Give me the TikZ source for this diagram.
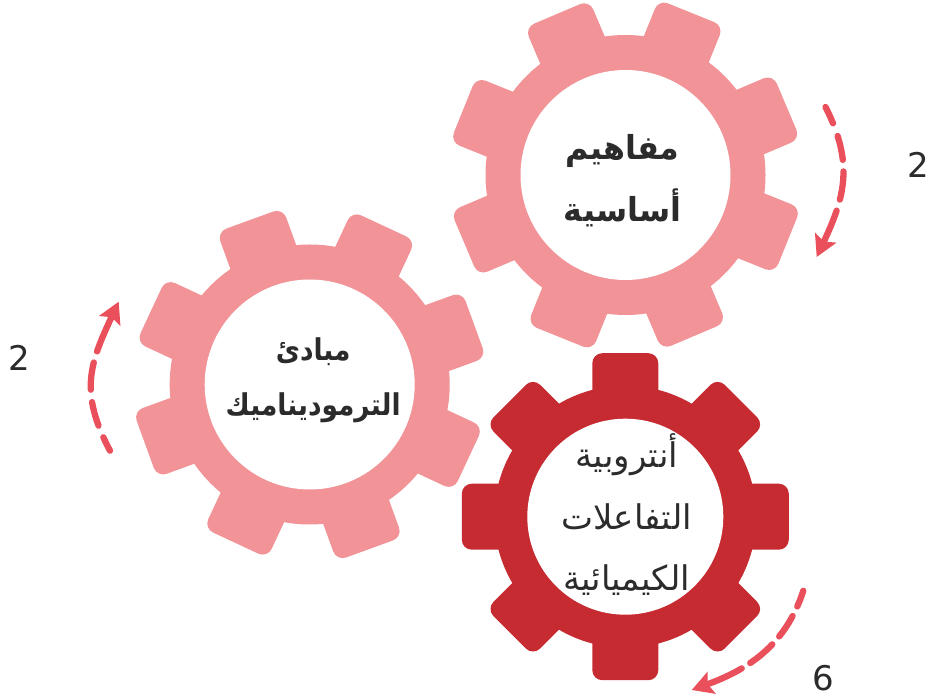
\documentclass[tikz,border=0pt]{standalone}
\usepackage{fontspec}
\setmainfont{DejaVu Sans}
\newfontfamily\arabicfont[Script=Arabic]{DejaVu Sans}
\newfontfamily\arabicnarrow[Script=Arabic,FakeStretch=0.88]{DejaVu Sans}
\newfontfamily\arabicslim[Script=Arabic,FakeStretch=0.96]{DejaVu Sans}
\TeXXeTstate=1
\usetikzlibrary{arrows.meta}
\definecolor{softpink}{HTML}{F19397}
\definecolor{deepred}{HTML}{C62B32}
\definecolor{arrowred}{HTML}{E9505C}
\definecolor{inktext}{HTML}{2B2B2B}
\tikzset{
  x=1pt,y=1pt,
  hole/.style={circle,fill=white,inner sep=0pt},
  words/.style={inner sep=0pt,align=center,text=inktext},
  spin/.style={draw=arrowred,line width=6.3pt,line cap=round,
    -{Stealth[length=21pt,width=23pt,inset=4pt]}},
  count/.style={text=inktext,font=\fontsize{34}{40}\selectfont,inner sep=0pt}
}
\newcommand{\gearshape}[7]{% x y body tooth width rot colour
  \fill[#7] (#1,#2) circle (#3);
  \foreach \k in {0,45,...,315}{
    \begin{scope}[shift={(#1,#2)},rotate=#6+\k]
      \fill[#7,rounded corners=10pt] (#3*0.6,-#5/2) rectangle (#4,#5/2);
    \end{scope}
  }
}
\begin{document}
\begin{tikzpicture}
\useasboundingbox (0,0) rectangle (928,698);
\gearshape{625.5}{523}{140}{175}{70}{68}{softpink}
\gearshape{309.7}{313.5}{140}{175}{70}{65}{softpink}
\gearshape{625.3}{181.3}{131}{163.5}{66}{0}{deepred}

\node[hole,minimum size=210pt] (g1) at (625.5,523) {};
\node[hole,minimum size=210pt] (g2) at (309.7,313.5) {};
\node[hole,minimum size=196pt] (g3) at (625.3,181.3) {};

\node[words,font=\fontsize{33}{62}\selectfont\bfseries\arabicslim] (t1) at ([xshift=-3pt,yshift=-6pt]g1.center)
  {\beginR مفاهيم\endR\\\beginR أساسية\endR};
\node[words,font=\fontsize{30}{55}\selectfont\bfseries\arabicnarrow] (t2) at ([xshift=3.5pt,yshift=4pt]g2.center)
  {\beginR مبادئ\endR\\\beginR الترموديناميك\endR};
\node[words,font=\fontsize{34}{61.5}\selectfont\arabicfont] (t3) at ([xshift=1.5pt,yshift=2pt]g3.center)
  {\beginR أنتروبية\endR\\\beginR التفاعلات\endR\\\beginR الكيميائية\endR};

\coordinate (a1s) at (825.5,591);
\coordinate (a1e) at (816.7,441);
\coordinate (a2s) at (110,247.3);
\coordinate (a2e) at (118.7,396.3);
\coordinate (a3s) at (803.3,107.3);
\coordinate (a3e) at (691.7,8);
\draw[spin,dash pattern=on 18pt off 13.5pt on 24.5pt off 11.5pt on 28.5pt off 11.5pt on 300pt off 1pt]
  (a1s) to[out=-63,in=65,looseness=1.1] (a1e);
\draw[spin,dash pattern=on 15pt off 12.5pt on 24.5pt off 12.5pt on 27.5pt off 11.5pt on 300pt off 1pt]
  (a2s) to[out=118,in=-115,looseness=1.15] (a2e);
\draw[spin,dash pattern=on 17pt off 10.5pt on 24.5pt off 10.5pt on 29pt off 10pt on 300pt off 1pt]
  (a3s) to[out=-108,in=20,looseness=1] (a3e);

\node[count] (n1) at (918,533) {2};
\node[count] (n2) at (19,340) {2};
\node[count] (n3) at (823.5,20) {6};
\end{tikzpicture}
\end{document}
